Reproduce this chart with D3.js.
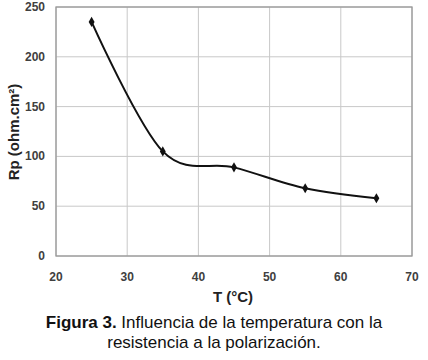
<!DOCTYPE html>
<html>
<head>
<meta charset="UTF-8">
<script src="https://cdn.jsdelivr.net/npm/d3@7"></script>
<style>
  body { margin: 0; background: #fff; }
  .tick-label { font-family: 'Liberation Sans', Arial, sans-serif; font-weight: bold; font-size: 12px; fill: #404040; }
  .axis-title { font-family: 'Liberation Sans', Arial, sans-serif; font-weight: bold; font-size: 15px; fill: #222; }
  .caption { font-family: 'Liberation Sans', Arial, sans-serif; font-size: 17px; fill: #111; }
</style>
</head>
<body>
<svg id="chart" width="428" height="360"></svg>
<script>
// data
var temps = [25, 35, 45, 55, 65];
var rp = [235, 105, 89, 68, 58];
var xTicks = [20, 30, 40, 50, 60, 70];
var yTicks = [0, 50, 100, 150, 200, 250];

var svg = d3.select("#chart");
var plotLeft = 56, plotRight = 412, plotTop = 7, plotBottom = 256;

var x = d3.scaleLinear().domain([20, 70]).range([plotLeft, plotRight]);
var y = d3.scaleLinear().domain([0, 250]).range([plotBottom, plotTop]);

// grid
svg.selectAll(".vgrid").data(xTicks).enter().append("line")
    .attr("x1", function (d) { return x(d); }).attr("x2", function (d) { return x(d); })
    .attr("y1", plotTop).attr("y2", plotBottom)
    .attr("stroke", "#c8c8c8").attr("stroke-width", 1);
svg.selectAll(".hgrid").data(yTicks).enter().append("line")
    .attr("x1", plotLeft).attr("x2", plotRight)
    .attr("y1", function (d) { return y(d); }).attr("y2", function (d) { return y(d); })
    .attr("stroke", "#c8c8c8").attr("stroke-width", 1);

// frame
svg.append("rect").attr("x", plotLeft).attr("y", plotTop)
    .attr("width", plotRight - plotLeft).attr("height", plotBottom - plotTop)
    .attr("fill", "none").attr("stroke", "#999").attr("stroke-width", 1.3);

// tick labels
svg.selectAll(".xt").data(xTicks).enter().append("text")
    .attr("class", "tick-label")
    .attr("x", function (d) { return x(d); }).attr("y", 281)
    .attr("text-anchor", "middle").text(function (d) { return d; });
svg.selectAll(".yt").data(yTicks).enter().append("text")
    .attr("class", "tick-label")
    .attr("x", 45).attr("y", function (d) { return y(d) + 4; })
    .attr("text-anchor", "end").text(function (d) { return d; });

// curve
var pts = temps.map(function (t, i) { return [t, rp[i]]; });
var line = d3.line()
    .x(function (d) { return x(d[0]); })
    .y(function (d) { return y(d[1]); })
    .curve(d3.curveCardinal.tension(0));
svg.append("path").datum(pts).attr("d", line)
    .attr("fill", "none").attr("stroke", "#111").attr("stroke-width", 2);

svg.selectAll(".pt").data(pts).enter().append("path")
    .attr("d", d3.symbol().type(d3.symbolDiamond).size(30))
    .attr("transform", function (d) { return "translate(" + x(d[0]) + "," + y(d[1]) + ")"; })
    .attr("fill", "#111");

// axis titles
svg.append("text").attr("class", "axis-title")
    .attr("x", 233).attr("y", 302).attr("text-anchor", "middle").text("T (°C)");
svg.append("text").attr("class", "axis-title")
    .attr("transform", "translate(19,132) rotate(-90)")
    .attr("text-anchor", "middle").text("Rp (ohm.cm²)");

// caption
var cap = svg.append("text").attr("class", "caption")
    .attr("x", 214).attr("y", 328).attr("text-anchor", "middle");
cap.append("tspan").attr("font-weight", "bold").text("Figura 3.");
cap.append("tspan").text(" Influencia de la temperatura con la");
svg.append("text").attr("class", "caption")
    .attr("x", 214).attr("y", 348).attr("text-anchor", "middle")
    .text("resistencia a la polarización.");
</script>
</body>
</html>
